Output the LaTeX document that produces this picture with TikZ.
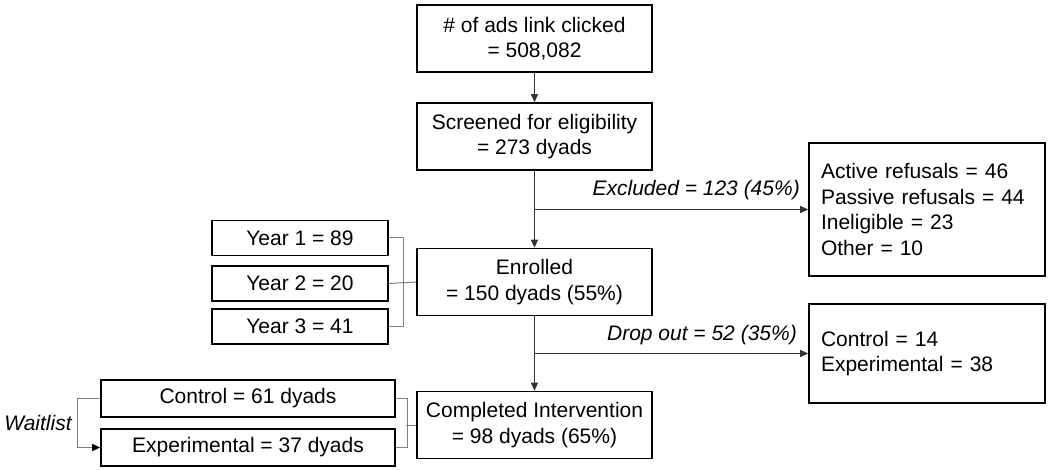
\documentclass[tikz,border=0pt]{standalone}
\usepackage{fontspec}
\setmainfont{Liberation Sans}
\usetikzlibrary{arrows.meta}
\begin{document}
\begin{tikzpicture}[x=1pt,y=-1pt,
  every node/.style={font=\fontsize{21}{25.5}\selectfont},
  box/.style={draw=black,line width=1.6pt,minimum width=235pt,minimum height=67pt,align=center,inner sep=0pt},
  sidebox/.style={draw=black,line width=1.6pt,minimum width=236pt,text width=212pt,inner xsep=12pt,align=left},
  smallbox/.style={draw=black,line width=1.6pt,minimum height=35pt,inner sep=0pt},
  flow/.style={draw=black!80,line width=1pt,-{Triangle[length=8pt,width=7pt]}},
  bracket/.style={draw=black!50,line width=1pt},
  lab/.style={font=\fontsize{21}{25.5}\selectfont\itshape,inner sep=2pt}]
\useasboundingbox[fill=white] (0,0) rectangle (1050,470);

\node[box] (ads) at (534.5,38.5) {\# of ads link clicked\\= 508,082};
\node[box] (screen) at (534.5,136.5) {Screened for eligibility\\= 273 dyads};
\node[box] (enrolled) at (534.5,282) {Enrolled\\= 150 dyads (55\%)};
\node[box] (completed) at (534.5,425) {Completed Intervention\\= 98 dyads (65\%)};

\node[sidebox,minimum height=133pt] (excl) at (927,209.5) {Active refusals = 46\\Passive refusals = 44\\Ineligible = 23\\Other = 10};
\node[sidebox,minimum height=99pt] (drop) at (927,353.5) {Control = 14\\Experimental = 38};

\node[smallbox,minimum width=176pt] (year1) at (300,238) {Year 1 = 89};
\node[smallbox,minimum width=176pt] (year2) at (300,283.5) {Year 2 = 20};
\node[smallbox,minimum width=176pt] (year3) at (300,326.5) {Year 3 = 41};

\node[smallbox,minimum width=294pt,minimum height=37pt] (control) at (248,398.5) {Control = 61 dyads};
\node[smallbox,minimum width=294pt,minimum height=37pt] (exp) at (248,447.5) {Experimental = 37 dyads};

\node[lab] (wait) at (38,423) {Waitlist};

\draw[flow] (ads.south) -- (screen.north);
\draw[flow] (screen.south) -- (enrolled.north);
\draw[flow] (screen.south |- excl.west) -- (excl.west);
\draw[flow] (enrolled.south) -- (completed.north);
\draw[flow] (enrolled.south |- drop.west) -- (drop.west);

\node[lab,anchor=south east] (exlab) at (802,202) {Excluded = 123 (45\%)};
\node[lab,anchor=south east] (dolab) at (799,347) {Drop out = 52 (35\%)};

\draw[bracket] (year1.east) -- ++(15,0) |- (year3.east);
\draw[bracket] (year2.east) -- (enrolled.west);

\draw[bracket] (control.east) -- ++(12,0) |- (exp.east);
\draw[bracket] (completed.west) -- ++(-10,0);

\draw[bracket,-{Triangle[length=8pt,width=7pt,fill=black,color=black]}] (control.west) -- ++(-23,0) |- (exp.west);
\end{tikzpicture}
\end{document}
